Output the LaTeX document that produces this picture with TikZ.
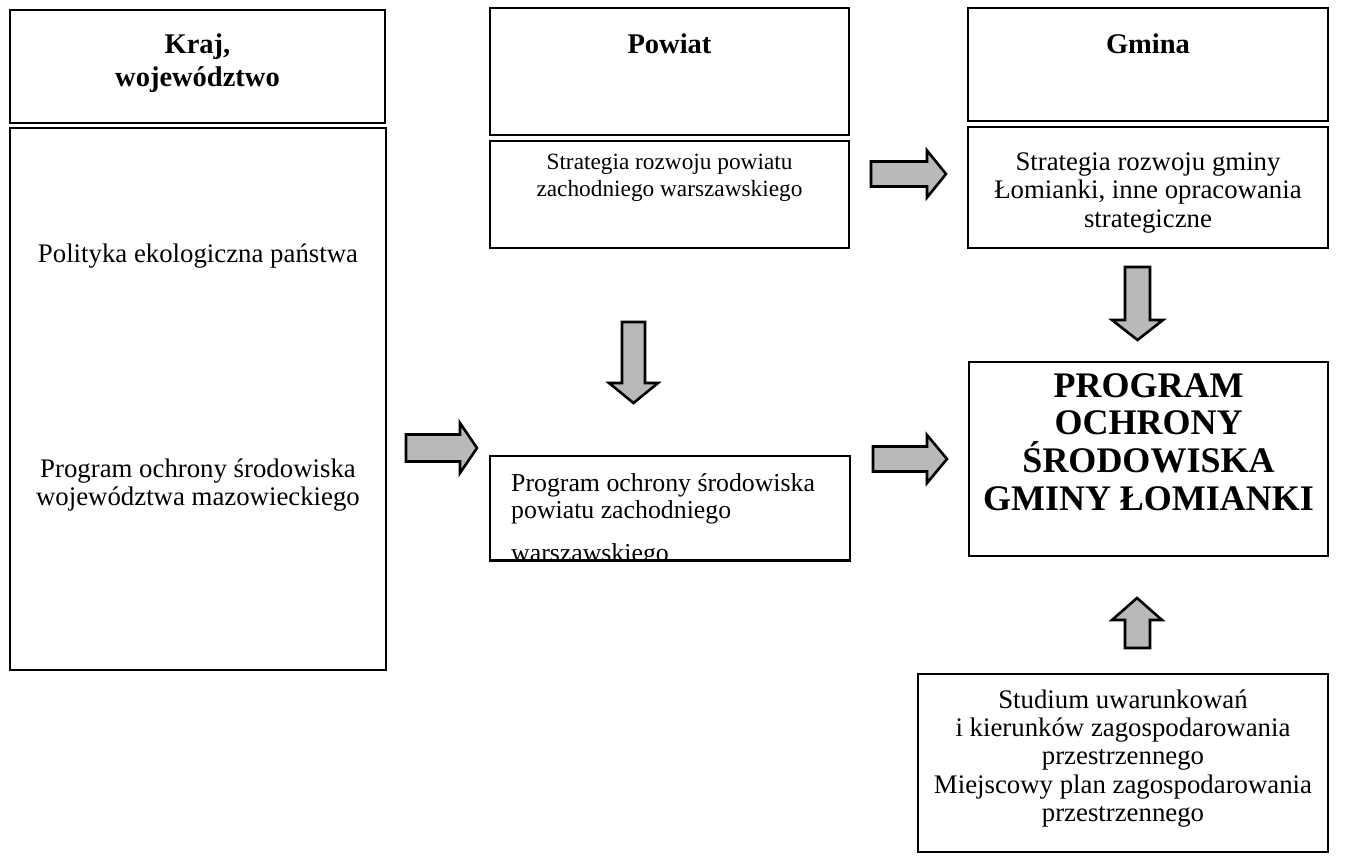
\documentclass[tikz,border=0pt]{standalone}
\usepackage{fontspec}
\setmainfont{Liberation Serif}
\begin{document}
\begin{tikzpicture}[x=1pt,y=-1pt,
  box/.style={draw=black,line width=2.4pt,fill=white,inner sep=0pt},
  txt/.style={align=center,font=\fontsize{26.8}{28.4}\selectfont,inner sep=0pt},
  stxt/.style={align=center,font=\fontsize{23.3}{27}\selectfont,inner sep=0pt},
  head/.style={align=center,font=\fontsize{28.5}{33}\selectfont\bfseries,inner sep=0pt},
  bighead/.style={align=center,font=\fontsize{36}{37.8}\selectfont\bfseries,inner sep=0pt},
  blockarr/.style={draw=black,line width=2.6pt,fill=gray!55,line join=miter}]
\useasboundingbox (0,0) rectangle (1357,860);
% left column
\node[box,minimum width=375,minimum height=113] (kraj) at (197.5,66.5) {};
\node[head] (krajt) at (197.5,63.5) {Kraj,\\województwo};
\node[box,minimum width=376,minimum height=542] (pol) at (198,399) {};
\node[txt] (polt1) at (198,256) {Polityka ekologiczna państwa};
\node[txt] (polt2) at (198,485) {Program ochrony środowiska\\województwa mazowieckiego};
% powiat column
\node[box,minimum width=359,minimum height=127] (powiat) at (669.5,71.5) {};
\node[head] (powiatt) at (669.5,43.5) {Powiat};
\node[box,minimum width=359,minimum height=107] (spow) at (669.5,194.5) {};
\node[stxt] (spowt) at (669.5,178) {Strategia rozwoju powiatu\\zachodniego warszawskiego};
% gmina column
\node[box,minimum width=360,minimum height=113] (gmina) at (1148,64.5) {};
\node[head] (gminat) at (1148,43.5) {Gmina};
\node[box,minimum width=360,minimum height=121] (sgm) at (1148,187.5) {};
\node[txt] (sgmt) at (1148,193) {Strategia rozwoju gminy\\Łomianki, inne opracowania\\strategiczne};
% middle program box
\node[box,minimum width=360,minimum height=104] (pp) at (670,508) {};
\begin{scope}
\clip (pp.north west) rectangle (pp.south east);
\node[txt,font=\fontsize{25.8}{27.5}\selectfont,align=left,anchor=north west] (ppt) at (511,473) {Program ochrony środowiska\\powiatu zachodniego\\[15pt]warszawskiego};
\end{scope}
\draw[line width=2.4pt] (pp.south west) -- (pp.south east);
% main program box
\node[box,minimum width=359,minimum height=194] (prog) at (1148.5,459) {};
\node[bighead] (progt) at (1148.5,442) {PROGRAM\\OCHRONY\\ŚRODOWISKA\\GMINY ŁOMIANKI};
% studium box
\node[box,minimum width=410,minimum height=178] (stud) at (1123,763) {};
\node[txt] (studt) at (1123,758.5) {Studium uwarunkowań\\i kierunków zagospodarowania\\przestrzennego\\Miejscowy plan zagospodarowania\\przestrzennego};
% block arrows
\draw[blockarr] (871,161.5) -- (927,161.5) -- (927,150.5) -- (946,174) -- (927,197.5) -- (927,186.5) -- (871,186.5) -- cycle;
\draw[blockarr] (406,434.5) -- (460,434.5) -- (460,423) -- (477,448) -- (460,473) -- (460,461.5) -- (406,461.5) -- cycle;
\draw[blockarr] (873,446.5) -- (927,446.5) -- (927,435) -- (947,459) -- (927,483) -- (927,471.5) -- (873,471.5) -- cycle;
\draw[blockarr] (622,322) -- (645,322) -- (645,383) -- (658,383) -- (633.5,403) -- (609,383) -- (622,383) -- cycle;
\draw[blockarr] (1125,267) -- (1150,267) -- (1150,320) -- (1163,320) -- (1137.5,340) -- (1112,320) -- (1125,320) -- cycle;
\draw[blockarr] (1125,648) -- (1150,648) -- (1150,620) -- (1162,620) -- (1137,598) -- (1112,620) -- (1125,620) -- cycle;
\end{tikzpicture}
\end{document}
